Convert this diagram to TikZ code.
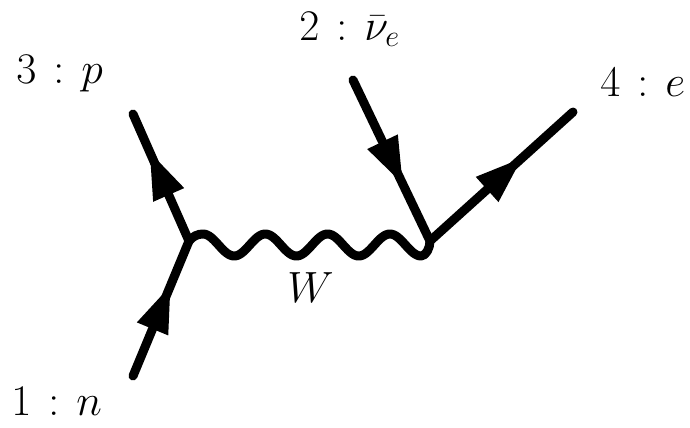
\documentclass[tikz,border=0pt]{standalone}
\usetikzlibrary{decorations.markings}
\newcommand{\pcolon}{\mathrel{\mskip2mu:\mskip2mu}}
\begin{document}
\begin{tikzpicture}[x=0.02cm,y=-0.02cm,
  fermion/.style={line width=0.18cm, line cap=round, line join=round, postaction={decorate},
    decoration={markings, mark=at position #1 with {\fill (0.05cm,0) -- (-0.88cm,0.34cm) -- (-0.88cm,-0.34cm) -- cycle;}}},
  fermion/.default=0.65,
  boson/.style={line width=0.18cm, line cap=round, line join=round},
  lbl/.style={anchor=base west, inner sep=0pt, font=\fontsize{23.5}{28}\selectfont}]
\useasboundingbox (0,0) rectangle (690,427);
\coordinate (v1) at (189,241);
\coordinate (v2) at (430,241);
\coordinate (e1) at (133,376);
\coordinate (e3) at (133,114);
\coordinate (e2) at (353,80);
\coordinate (e4) at (573,112);
\draw[fermion=0.65] (e1) -- (v1);
\draw[fermion=0.68] (v1) -- (e3);
\draw[fermion=0.63] (e2) -- (v2);
\draw[fermion=0.63] (v2) -- (e4);
\draw[boson] (v1) .. controls (193,236) and (198,234) .. (203,234)
  -- plot[domain=203:421,samples=120] (\x,{245-11*cos((\x-203)*5.7785)})
  .. controls (426,256) and (430,248) .. (v2);
\node[lbl] (l3) at (16,83) {$3\pcolon p$};
\node[lbl] (l2) at (299,40) {$2\pcolon\bar\nu_e$};
\node[lbl] (l4) at (600,96) {$4\pcolon e$};
\node[lbl] (l1) at (11,415) {$1\pcolon n$};
\node[lbl] (lw) at (287,302) {$W$};
\end{tikzpicture}
\end{document}
